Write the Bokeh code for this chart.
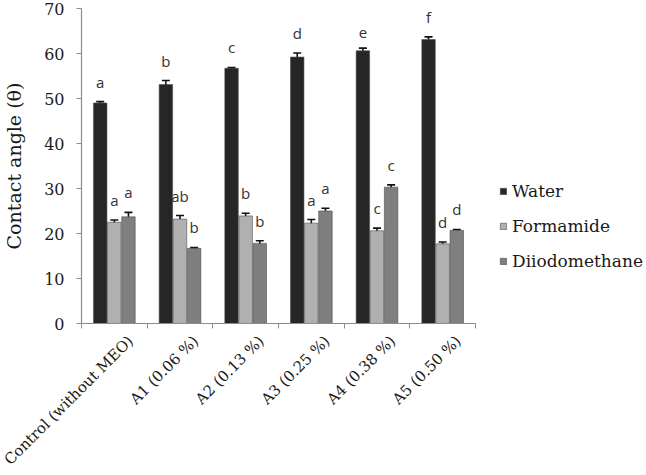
from bokeh.plotting import figure
from bokeh.models import (ColumnDataSource, Range1d, FixedTicker, Whisker, TeeHead,
                          Legend, LegendItem, LabelSet)
from bokeh.embed import file_html
from bokeh.resources import INLINE
from bokeh.core.properties import value

categories = ["Control (without MEO)", "A1 (0.06 %)", "A2 (0.13 %)",
              "A3 (0.25 %)", "A4 (0.38 %)", "A5 (0.50 %)"]
series = ["Water", "Formamide", "Diiodomethane"]
water = [49.0, 53.1, 56.7, 59.2, 60.6, 63.1]
water_err = [0.3, 0.9, 0.2, 0.9, 0.6, 0.6]
water_letters = ["a", "b", "c", "d", "e", "f"]
formamide = [22.5, 23.2, 23.9, 22.3, 20.6, 17.7]
formamide_err = [0.5, 0.8, 0.6, 0.8, 0.6, 0.4]
formamide_letters = ["a", "ab", "b", "a", "c", "d"]
diiodomethane = [23.7, 16.7, 17.8, 25.0, 30.3, 20.7]
diiodomethane_err = [1.0, 0.2, 0.6, 0.6, 0.5, 0.2]
diiodomethane_letters = ["a", "b", "b", "a", "c", "d"]
y_ticks = [0, 10, 20, 30, 40, 50, 60, 70]

colors = ["#262626", "#b0b0b0", "#7f7f7f"]
offsets = [-0.215, 0.0, 0.215]
bar_w = 0.205

p = figure(frame_width=394, frame_height=315, output_backend="svg", toolbar_location=None,
           x_range=Range1d(0, len(categories)), y_range=Range1d(0, 70),
           min_border_left=77, min_border_right=0, min_border_top=8,
           min_border_bottom=145)
p.grid.visible = False
p.outline_line_color = None

data_sets = [(water, water_err, water_letters),
             (formamide, formamide_err, formamide_letters),
             (diiodomethane, diiodomethane_err, diiodomethane_letters)]
renderers = []
for k, (vals, errs, letters) in enumerate(data_sets):
    xs = [i + 0.5 + offsets[k] for i in range(len(categories))]
    src = ColumnDataSource(dict(
        x=xs, top=vals,
        upper=[v + e for v, e in zip(vals, errs)],
        lower=[v - e for v, e in zip(vals, errs)],
        label=letters))
    r = p.vbar(x="x", top="top", width=bar_w, source=src, fill_color=colors[k],
               line_color="#4d4d4d", line_width=0.6)
    renderers.append(r)
    w = Whisker(base="x", upper="upper", lower="lower", source=src,
                line_color="#111111", line_width=1.6,
                upper_head=TeeHead(size=8, line_color="#111111", line_width=1.6),
                lower_head=TeeHead(size=8, line_color="#111111", line_width=1.6))
    p.add_layout(w)
    lbl = LabelSet(x="x", y="upper", text="label", source=src, y_offset=10,
                   text_align="center", text_baseline="bottom",
                   text_font=value("Open Sans"), text_font_size="15px",
                   text_color="#333333")
    p.add_layout(lbl)

# y axis
yax = p.yaxis[0]
yax.ticker = FixedTicker(ticks=y_ticks)
yax.axis_line_color = "#8c8c8c"
yax.axis_line_width = 1.2
yax.major_tick_line_color = "#8c8c8c"
yax.major_tick_out = 5
yax.major_tick_in = 0
yax.minor_tick_line_color = None
yax.major_label_text_font = "DejaVu Serif"
yax.major_label_text_font_size = "16px"
yax.major_label_text_color = "#1a1a1a"
yax.major_label_standoff = 12
yax.axis_label = "Contact angle (θ)"
yax.axis_label_text_font = "DejaVu Serif"
yax.axis_label_text_font_size = "19px"
yax.axis_label_text_font_style = "normal"
yax.axis_label_text_color = "#1a1a1a"
yax.axis_label_standoff = 16

# x axis: labels near category centres, boundary ticks drawn as minor ticks
label_pos = [i + 0.74 for i in range(len(categories))]
xax = p.xaxis[0]
xax.ticker = FixedTicker(ticks=label_pos,
                         minor_ticks=list(range(len(categories) + 1)))
xax.major_label_overrides = {t: c for t, c in zip(label_pos, categories)}
xax.axis_line_color = "#8c8c8c"
xax.axis_line_width = 1.2
xax.major_tick_line_color = None
xax.major_tick_out = 0
xax.major_tick_in = 0
xax.minor_tick_line_color = "#8c8c8c"
xax.minor_tick_out = 5
xax.minor_tick_in = 0
xax.major_label_orientation = 0.785398
xax.major_label_standoff = 10
xax.major_label_text_font = "DejaVu Serif"
xax.major_label_text_font_size = "15px"
xax.major_label_text_color = "#1a1a1a"

legend = Legend(items=[LegendItem(label=s, renderers=[r]) for s, r in zip(series, renderers)],
                location=(24, 52), border_line_color=None, background_fill_alpha=0,
                padding=0, margin=0, spacing=15, glyph_width=8, glyph_height=8,
                label_standoff=5, label_text_font="DejaVu Serif",
                label_text_font_size="17px", label_text_color="#1a1a1a")
p.add_layout(legend, "right")

open("out.html", "w").write(file_html(p, INLINE))
